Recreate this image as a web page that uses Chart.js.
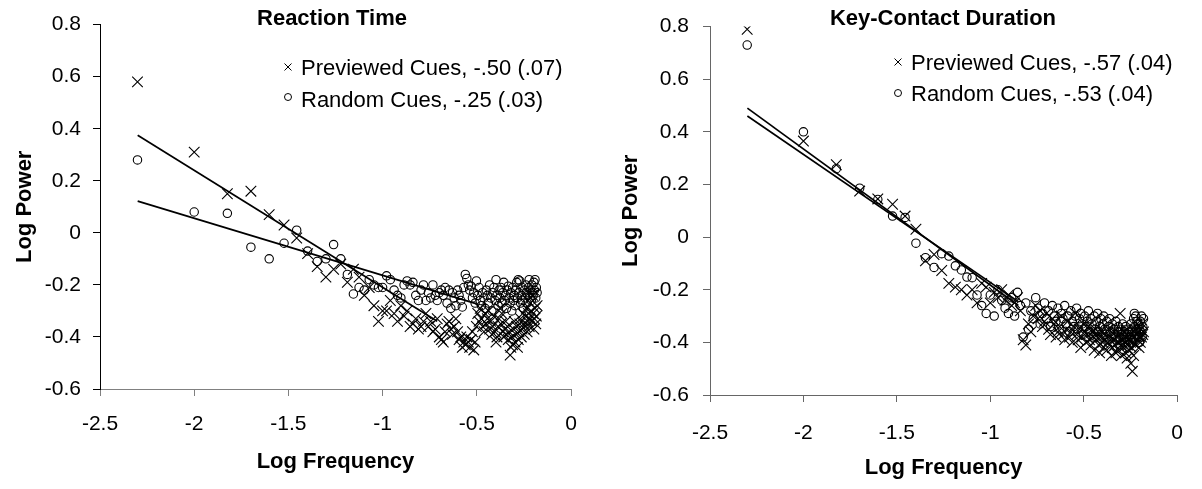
<!DOCTYPE html>
<html><head><meta charset="utf-8">
<script src="https://cdn.jsdelivr.net/npm/chart.js@4.4.1/dist/chart.umd.min.js"></script>
<style>
html,body{margin:0;padding:0;background:#fff;width:1202px;height:489px;overflow:hidden;font-family:'Liberation Sans',Arial,sans-serif;}
canvas{position:absolute;top:0;}
.t{position:absolute;font-weight:bold;font-size:22px;line-height:22px;white-space:nowrap;color:#000;transform:translateX(-50%);}
.lg{position:absolute;font-size:22px;line-height:22px;white-space:nowrap;color:#000;}
svg{position:absolute;overflow:visible;}
</style></head><body>
<canvas id="c1" style="left:0" width="600" height="489"></canvas>
<canvas id="c2" style="left:600px" width="602" height="489"></canvas>

<div class="t" style="left:332px;top:7px">Reaction Time</div>
<svg style="left:284px;top:63px" width="8" height="8"><path d="M0.5,0.5L7.5,7.5M7.5,0.5L0.5,7.5" stroke="#000" stroke-width="1"/></svg>
<div class="lg" style="left:301px;top:57px">Previewed Cues, -.50 (.07)</div>
<svg style="left:284px;top:93px" width="8" height="8"><circle cx="4" cy="4" r="3.5" fill="none" stroke="#000" stroke-width="1"/></svg>
<div class="lg" style="left:301px;top:89px">Random Cues, -.25 (.03)</div>

<div class="t" style="left:943px;top:7px">Key-Contact Duration</div>
<svg style="left:894px;top:58px" width="8" height="8"><path d="M0.5,0.5L7.5,7.5M7.5,0.5L0.5,7.5" stroke="#000" stroke-width="1"/></svg>
<div class="lg" style="left:911px;top:52px">Previewed Cues, -.57 (.04)</div>
<svg style="left:894px;top:89px" width="8" height="8"><circle cx="4" cy="4" r="3.5" fill="none" stroke="#000" stroke-width="1"/></svg>
<div class="lg" style="left:911px;top:83px">Random Cues, -.53 (.04)</div>

<script>
// ---------- data ----------
const logFreq = [
 -2.301,-2.000,-1.824,-1.699,-1.602,-1.523,-1.456,-1.398,-1.347,-1.301,
 -1.260,-1.222,-1.187,-1.155,-1.125,-1.097,-1.071,-1.046,-1.022,-1.000,
 -0.979,-0.959,-0.939,-0.921,-0.903,-0.886,-0.870,-0.854,-0.839,-0.824,
 -0.810,-0.796,-0.783,-0.770,-0.757,-0.745,-0.733,-0.721,-0.710,-0.699,
 -0.688,-0.678,-0.668,-0.658,-0.648,-0.638,-0.629,-0.620,-0.611,-0.602,
 -0.594,-0.585,-0.577,-0.569,-0.561,-0.553,-0.545,-0.538,-0.530,-0.523,
 -0.516,-0.509,-0.502,-0.495,-0.488,-0.482,-0.475,-0.469,-0.462,-0.456,
 -0.450,-0.444,-0.438,-0.432,-0.426,-0.420,-0.415,-0.409,-0.403,-0.398,
 -0.393,-0.387,-0.382,-0.377,-0.372,-0.367,-0.362,-0.357,-0.352,-0.347,
 -0.342,-0.337,-0.333,-0.328,-0.323,-0.319,-0.314,-0.310,-0.305,-0.301,
 -0.297,-0.292,-0.288,-0.284,-0.280,-0.276,-0.272,-0.268,-0.264,-0.260,
 -0.256,-0.252,-0.248,-0.244,-0.240,-0.237,-0.233,-0.229,-0.226,-0.222,
 -0.218,-0.215,-0.211,-0.208,-0.204,-0.201,-0.197,-0.194,-0.191,-0.187,
 -0.184,-0.180];

const rtPreviewed = [
 0.58,0.31,0.15,0.16,0.07,0.03,-0.02,-0.08,-0.13,-0.17,
 -0.14,-0.12,-0.19,-0.14,-0.17,-0.24,-0.21,-0.28,-0.34,-0.30,
 -0.30,-0.26,-0.31,-0.34,-0.28,-0.32,-0.30,-0.36,-0.35,-0.33,
 -0.37,-0.36,-0.34,-0.31,-0.36,-0.34,-0.38,-0.37,-0.33,-0.40,
 -0.41,-0.42,-0.38,-0.35,-0.34,-0.37,-0.39,-0.36,-0.33,-0.38,
 -0.41,-0.40,-0.44,-0.42,-0.43,-0.40,-0.42,-0.44,-0.41,-0.38,
 -0.45,-0.42,-0.36,-0.31,-0.34,-0.29,-0.33,-0.36,-0.38,-0.31,
 -0.35,-0.33,-0.30,-0.37,-0.34,-0.39,-0.36,-0.32,-0.38,-0.42,
 -0.40,-0.36,-0.33,-0.29,-0.35,-0.31,-0.38,-0.40,-0.37,-0.34,
 -0.39,-0.36,-0.41,-0.38,-0.47,-0.44,-0.40,-0.43,-0.37,-0.34,
 -0.42,-0.39,-0.36,-0.44,-0.41,-0.38,-0.35,-0.33,-0.40,-0.37,
 -0.31,-0.35,-0.39,-0.36,-0.32,-0.29,-0.38,-0.34,-0.31,-0.36,
 -0.33,-0.27,-0.30,-0.34,-0.24,-0.31,-0.37,-0.33,-0.29,-0.35,
 -0.32,-0.28];

const rtRandom = [
 0.28,0.08,0.075,-0.055,-0.10,-0.04,0.01,-0.07,-0.11,-0.10,
 -0.045,-0.10,-0.16,-0.235,-0.21,-0.22,-0.18,-0.20,-0.21,-0.21,
 -0.165,-0.18,-0.22,-0.24,-0.25,-0.20,-0.185,-0.20,-0.19,-0.24,
 -0.26,-0.22,-0.20,-0.26,-0.23,-0.25,-0.20,-0.24,-0.26,-0.23,
 -0.22,-0.24,-0.21,-0.27,-0.22,-0.29,-0.23,-0.25,-0.28,-0.22,
 -0.24,-0.26,-0.285,-0.21,-0.16,-0.175,-0.20,-0.22,-0.205,-0.25,
 -0.23,-0.27,-0.185,-0.24,-0.21,-0.26,-0.28,-0.23,-0.25,-0.29,
 -0.22,-0.24,-0.27,-0.20,-0.25,-0.30,-0.23,-0.21,-0.26,-0.18,
 -0.24,-0.28,-0.22,-0.25,-0.21,-0.27,-0.23,-0.19,-0.26,-0.24,
 -0.29,-0.22,-0.205,-0.25,-0.27,-0.23,-0.30,-0.21,-0.26,-0.24,
 -0.28,-0.22,-0.19,-0.25,-0.18,-0.23,-0.185,-0.27,-0.24,-0.21,
 -0.26,-0.29,-0.22,-0.25,-0.20,-0.23,-0.27,-0.24,-0.21,-0.18,
 -0.25,-0.22,-0.26,-0.20,-0.23,-0.24,-0.19,-0.22,-0.18,-0.25,
 -0.21,-0.23];

const kcPreviewed = [
 0.79,0.365,0.275,0.175,0.145,0.125,0.08,0.03,-0.09,-0.066,
 -0.127,-0.176,-0.19,-0.20,-0.22,-0.20,-0.25,-0.176,-0.19,-0.25,
 -0.21,-0.23,-0.20,-0.24,-0.22,-0.26,-0.25,-0.23,-0.28,-0.39,
 -0.41,-0.33,-0.36,-0.30,-0.26,-0.31,-0.28,-0.34,-0.32,-0.29,
 -0.35,-0.37,-0.31,-0.33,-0.38,-0.36,-0.34,-0.30,-0.37,-0.39,
 -0.35,-0.32,-0.38,-0.36,-0.40,-0.34,-0.29,-0.37,-0.39,-0.35,
 -0.42,-0.38,-0.33,-0.36,-0.40,-0.37,-0.34,-0.39,-0.41,-0.36,
 -0.38,-0.43,-0.35,-0.39,-0.37,-0.41,-0.44,-0.38,-0.36,-0.40,
 -0.42,-0.39,-0.37,-0.43,-0.40,-0.35,-0.41,-0.38,-0.45,-0.42,
 -0.39,-0.36,-0.41,-0.44,-0.38,-0.40,-0.43,-0.37,-0.29,-0.41,
 -0.45,-0.39,-0.42,-0.36,-0.40,-0.44,-0.38,-0.46,-0.41,-0.39,
 -0.43,-0.37,-0.48,-0.42,-0.51,-0.40,-0.45,-0.38,-0.35,-0.41,
 -0.37,-0.33,-0.39,-0.36,-0.42,-0.38,-0.40,-0.35,-0.38,-0.33,
 -0.37,-0.36];

const kcRandom = [
 0.73,0.40,0.26,0.186,0.143,0.08,0.075,-0.023,-0.078,-0.115,
 -0.063,-0.072,-0.109,-0.125,-0.152,-0.154,-0.22,-0.26,-0.29,-0.22,
 -0.30,-0.20,-0.24,-0.27,-0.29,-0.23,-0.30,-0.21,-0.26,-0.38,
 -0.25,-0.35,-0.28,-0.31,-0.23,-0.27,-0.33,-0.29,-0.25,-0.31,
 -0.28,-0.34,-0.26,-0.30,-0.32,-0.27,-0.35,-0.29,-0.31,-0.26,
 -0.33,-0.30,-0.36,-0.28,-0.32,-0.34,-0.30,-0.27,-0.35,-0.31,
 -0.29,-0.33,-0.37,-0.30,-0.34,-0.32,-0.28,-0.36,-0.31,-0.33,
 -0.38,-0.30,-0.35,-0.32,-0.29,-0.36,-0.34,-0.31,-0.38,-0.33,
 -0.30,-0.35,-0.37,-0.32,-0.39,-0.34,-0.31,-0.36,-0.38,-0.33,
 -0.40,-0.35,-0.37,-0.32,-0.39,-0.36,-0.34,-0.38,-0.41,-0.35,
 -0.37,-0.33,-0.39,-0.36,-0.40,-0.34,-0.38,-0.35,-0.37,-0.41,
 -0.36,-0.39,-0.33,-0.37,-0.35,-0.40,-0.31,-0.29,-0.34,-0.30,
 -0.36,-0.32,-0.38,-0.33,-0.35,-0.40,-0.32,-0.36,-0.30,-0.38,
 -0.34,-0.31];

// fitted regression lines (end points)
const rtFitPreviewedX = [-2.3, -0.71];
const rtFitPreviewedY = [0.375, -0.34];
const rtFitRandomX = [-2.3, -0.50];
const rtFitRandomY = [0.122, -0.273];
const kcFitPreviewedX = [-2.3, -0.85];
const kcFitPreviewedY = [0.49, -0.26];
const kcFitRandomX = [-2.3, -0.85];
const kcFitRandomY = [0.46, -0.245];

// tick labels
const xTicks = [-2.5, -2, -1.5, -1, -0.5, 0];
const xTickLabels = ['-2.5', '-2', '-1.5', '-1', '-0.5', '0'];
const yTicks = [-0.6, -0.4, -0.2, 0, 0.2, 0.4, 0.6, 0.8];
const yTickLabels = ['-0.6', '-0.4', '-0.2', '0', '0.2', '0.4', '0.6', '0.8'];

// ---------- chart ----------
Chart.defaults.font.family = "'Liberation Sans', Arial, sans-serif";
Chart.defaults.color = '#000';

function pts(xs, ys) { return xs.map((x, i) => ({x: x, y: ys[i]})); }

function makeChart(id, prevY, randY, fitP, fitR, L) {
  new Chart(document.getElementById(id), {
    type: 'scatter',
    data: {
      datasets: [
        {type: 'line', data: pts(fitP[0], fitP[1]), borderColor: '#000', borderWidth: 1.7,
         pointRadius: 0, fill: false, tension: 0, order: 0},
        {type: 'line', data: pts(fitR[0], fitR[1]), borderColor: '#000', borderWidth: 1.7,
         pointRadius: 0, fill: false, tension: 0, order: 0},
        {data: pts(logFreq, prevY), pointStyle: 'crossRot', pointRadius: 7.5,
         pointBorderColor: '#000', pointBackgroundColor: '#000', pointBorderWidth: 1.1, order: 1},
        {data: pts(logFreq, randY), pointStyle: 'circle', pointRadius: 4.2,
         pointBorderColor: '#000', pointBackgroundColor: 'rgba(0,0,0,0)', pointBorderWidth: 1.1, order: 2}
      ]
    },
    options: {
      responsive: false, animation: false, events: [],
      layout: {padding: {left: 0, right: L.padR, top: 15, bottom: 0}},
      plugins: {legend: {display: false}, tooltip: {enabled: false}, title: {display: false}},
      scales: {
        x: {
          type: 'linear', min: -2.5, max: 0,
          afterBuildTicks: s => { s.ticks = xTicks.map(v => ({value: v})); },
          ticks: {callback: (v, i) => xTickLabels[i], font: {size: 21}, color: '#000',
                  padding: L.xTickPad, maxRotation: 0, autoSkip: false},
          grid: {drawOnChartArea: false, drawTicks: true, tickLength: 7, color: L.xAxisColor, tickColor: L.xAxisColor},
          border: {display: true, color: L.xAxisColor, width: 1},
          title: {display: true, text: 'Log Frequency', font: {size: 22, weight: 'bold'}, color: '#000',
                  padding: {top: 0, bottom: L.xTitlePad}},
          afterFit: s => { s.height = L.xH; }
        },
        y: {
          type: 'linear', min: -0.6, max: 0.8,
          afterBuildTicks: s => { s.ticks = yTicks.map(v => ({value: v})); },
          ticks: {callback: (v, i) => yTickLabels[i], font: {size: 21}, color: '#000',
                  padding: L.yTickPad, autoSkip: false},
          grid: {drawOnChartArea: false, drawTicks: true, tickLength: 7, color: L.yAxisColor, tickColor: L.yAxisColor},
          border: {display: true, color: L.yAxisColor, width: 1},
          title: {display: true, text: 'Log Power', font: {size: 22, weight: 'bold'}, color: '#000',
                  padding: {top: L.yTitlePad, bottom: 0}},
          afterFit: s => { s.width = L.yW; }
        }
      }
    }
  });
}

makeChart('c1', rtPreviewed, rtRandom,
  [rtFitPreviewedX, rtFitPreviewedY], [rtFitRandomX, rtFitRandomY],
  {padR: 29, xH: 100, yW: 100, xTickPad: 16, xTitlePad: 14, yTickPad: 12, yTitlePad: 12,
   xAxisColor: '#808080', yAxisColor: '#000'});

makeChart('c2', kcPreviewed, kcRandom,
  [kcFitPreviewedX, kcFitPreviewedY], [kcFitRandomX, kcFitRandomY],
  {padR: 16, xH: 94, yW: 110, xTickPad: 19, xTitlePad: 8, yTickPad: 14, yTitlePad: 18,
   xAxisColor: '#666', yAxisColor: '#666'});
</script>
</body></html>
